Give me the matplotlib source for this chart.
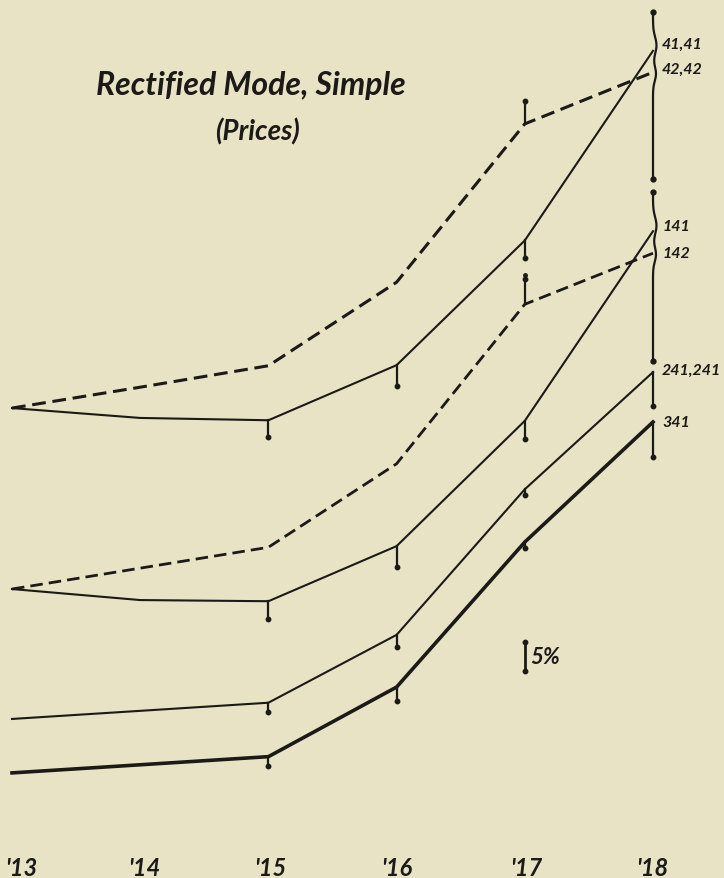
import matplotlib
matplotlib.use("Agg")
import matplotlib.pyplot as plt
import numpy as np

# ---------------- data (heights in "percent units": 5 units = the 5% scale bar) ----------------
years = [13, 14, 15, 16, 17, 18]
year_labels = ["'13", "'14", "'15", "'16", "'17", "'18"]

s41 = [67.4, 65.7, 65.3, 74.8, 96.3, 129.0]     # 41,41  solid
s42 = [67.4, 71.0, 74.7, 89.1, 116.4, 125.3]    # 42,42  dashed
s141 = [36.2, 34.3, 34.1, 43.6, 65.2, 97.9]     # 141    solid
s142 = [36.2, 39.8, 43.4, 57.8, 85.3, 94.1]     # 142    dashed
s241 = [13.8, 15.2, 16.6, 28.3, 53.4, 73.6]     # 241,241 solid
s341 = [4.5, 5.9, 7.3, 19.3, 44.3, 65.0]        # 341    heavy

series_names = ["41,41", "42,42", "141", "142", "241,241", "341"]

# dispersion ticks: (year, from, to)
ticks41 = [(15, 65.3, 62.4), (16, 74.8, 71.2), (17, 96.3, 93.3)]
ticks42 = [(17, 116.4, 120.3)]
ticks141 = [(15, 34.1, 31.0), (16, 43.6, 40.0), (17, 65.2, 62.1)]
ticks142 = [(17, 85.3, 89.7)]
ticks241 = [(15, 16.6, 15.0), (16, 28.3, 26.2), (17, 53.4, 52.4), (18, 73.6, 67.8)]
ticks341 = [(15, 7.3, 5.7), (16, 19.3, 16.9), (17, 44.3, 43.3), (18, 65.0, 59.0)]

# braces at '18 (range of group): top, bottom
brace_top = [135.7, 104.7]
brace_bottom = [106.9, 75.5]

scale_pct = 5

# ---------------- figure ----------------
W, H = 724, 879
BG = "#e8e3c5"
INK = "#1c1a17"
fig = plt.figure(figsize=(W / 100, H / 100), dpi=100, facecolor=BG)
ax = fig.add_axes([0, 0, 1, 1], facecolor=BG)

px_per_year = 128.2
x0_px = 12
px_per_unit = 29 / 5
y0_px = 800
ax.set_xlim(13 - x0_px / px_per_year, 13 + (W - x0_px) / px_per_year)
ax.set_ylim(-(H - y0_px) / px_per_unit, y0_px / px_per_unit)
ax.axis("off")

def dx(px):
    return px / px_per_year

def vy(py):
    return (y0_px - py) / px_per_unit

FONT = ["Lato", "DejaVu Sans"]
tk = dict(family=FONT, weight="bold", style="italic", color=INK)

ax.plot(years, s41, color=INK, lw=1.5, solid_joinstyle="miter")
ax.plot(years, s42, color=INK, lw=2.2, dashes=(4.5, 2.2))
ax.plot(years, s141, color=INK, lw=1.5)
ax.plot(years, s142, color=INK, lw=2.0, dashes=(4.5, 2.2))
ax.plot(years, s241, color=INK, lw=1.5)
ax.plot(years, s341, color=INK, lw=2.6)

for tl in [ticks41, ticks42, ticks141, ticks142, ticks241, ticks341]:
    for (yr, a, b) in tl:
        ax.plot([yr, yr], [a, b], color=INK, lw=1.6)
        ax.plot([yr], [b], "o", color=INK, ms=3.2)

# extra dot above the 142 tick at '17
ax.plot([17], [90.4], "o", color=INK, ms=2.5)

# braces at '18
for top, bot in zip(brace_top, brace_bottom):
    t = np.linspace(0, 1, 60)
    yy = top + (bot - top) * t
    xx = 18 + dx(3.5) * np.exp(-((t - 0.2) / 0.07) ** 2) + dx(3.0) * np.exp(-((t - 0.37) / 0.06) ** 2)
    ax.plot(xx, yy, color=INK, lw=1.6)
    ax.plot([18], [top], "o", color=INK, ms=3.5)
    ax.plot([18], [bot], "o", color=INK, ms=3.5)

# series labels
label_y_px = [45, 70, 227, 254, 371, 423]
for name, ly in zip(series_names, label_y_px):
    ax.text(18 + dx(9), vy(ly), name, fontsize=11.5, ha="left", va="center", **tk)

# title
ax.text(13 + dx(251 - 12), vy(85), "Rectified Mode, Simple", fontsize=23, ha="center", va="center", **tk)
ax.text(13 + dx(257 - 12), vy(132), "(Prices)", fontsize=20, ha="center", va="center", **tk)

# 5% scale bar
sx = 13 + dx(525 - 12)
sb = vy(672)
ax.plot([sx, sx], [sb, sb + scale_pct], color=INK, lw=2.0)
ax.plot([sx], [sb], "o", color=INK, ms=3.2)
ax.plot([sx], [sb + scale_pct], "o", color=INK, ms=3.2)
ax.text(sx + dx(5), sb + scale_pct / 2, "%d%%" % scale_pct, fontsize=16, ha="left", va="center", **tk)

# year labels
offsets = [dx(9), dx(4), dx(2), 0, dx(1), dx(-1)]
for yr, lab, off in zip(years, year_labels, offsets):
    ax.text(yr + off, vy(869), lab, fontsize=17, ha="center", va="center", **tk)

fig.savefig("out.png", dpi=100, facecolor=BG)
